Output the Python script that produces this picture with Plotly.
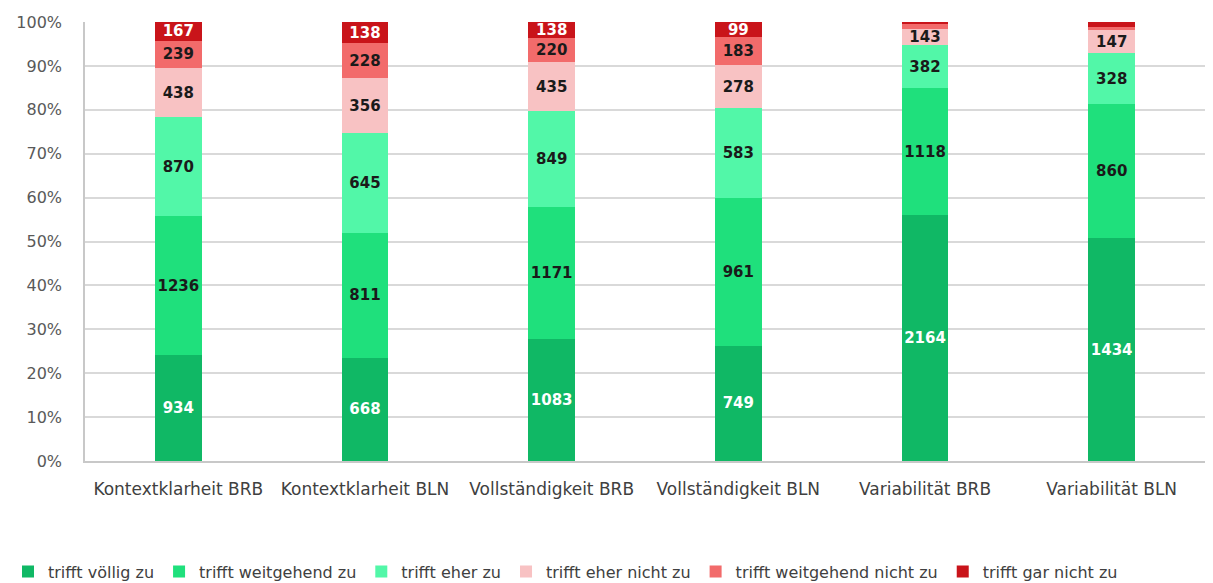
import plotly.graph_objects as go

categories = ["Kontextklarheit BRB", "Kontextklarheit BLN", "Vollständigkeit BRB",
              "Vollständigkeit BLN", "Variabilität BRB", "Variabilität BLN"]

series_names = ["trifft völlig zu", "trifft weitgehend zu", "trifft eher zu",
                "trifft eher nicht zu", "trifft weitgehend nicht zu", "trifft gar nicht zu"]

voellig_zu = [934, 668, 1083, 749, 2164, 1434]
weitgehend_zu = [1236, 811, 1171, 961, 1118, 860]
eher_zu = [870, 645, 849, 583, 382, 328]
eher_nicht_zu = [438, 356, 435, 278, 143, 147]
weitgehend_nicht_zu = [239, 228, 220, 183, 40, 22]
gar_nicht_zu = [167, 138, 138, 99, 18, 32]

series_values = [voellig_zu, weitgehend_zu, eher_zu, eher_nicht_zu,
                 weitgehend_nicht_zu, gar_nicht_zu]
colors = ["#10b865", "#1fe07c", "#52f7a8", "#f8c2c3", "#f26b6b", "#c9141a"]
text_colors = ["white", "#1a1a1a", "#1a1a1a", "#1a1a1a", "#1a1a1a", "white"]

totals = [sum(v[i] for v in series_values) for i in range(len(categories))]

fig = go.Figure()
for name, vals, col, tcol in zip(series_names, series_values, colors, text_colors):
    labels = [str(v) if v / t > 0.02 else "" for v, t in zip(vals, totals)]
    fig.add_trace(go.Bar(
        name=name, x=categories, y=vals,
        marker=dict(color=col, line=dict(width=0)),
        text=labels, textposition="inside", insidetextanchor="middle", textangle=0,
        textfont=dict(family="DejaVu Sans", size=15, color=tcol, weight="bold"),
        width=0.25, hoverinfo="skip",
    ))

# body has an 8px default margin in the page, so compensate for it
fig.update_layout(
    barmode="stack", barnorm="percent",
    width=1205, height=575,
    margin=dict(l=77, r=8, t=14, b=122),
    plot_bgcolor="white", paper_bgcolor="white",
    font=dict(family="DejaVu Sans", color="#595959", size=16),
    uniformtext=dict(minsize=15, mode="show"),
    legend=dict(orientation="h", xref="container", x=-0.007, xanchor="left",
                yref="container", y=0.02, yanchor="middle",
                font=dict(family="DejaVu Sans", size=16, color="#404040"),
                traceorder="normal", itemwidth=30, tracegroupgap=0),
)
fig.update_xaxes(showline=True, linecolor="#c8c8c8", linewidth=1.5, ticks="",
                 automargin=False,
                 tickfont=dict(family="DejaVu Sans", size=17, color="#404040"),
                 ticklabelstandoff=12)
fig.update_yaxes(range=[0, 100], dtick=10, ticksuffix="%", showgrid=True,
                 gridcolor="#d9d9d9", gridwidth=1.5, showline=True, linecolor="#c8c8c8",
                 linewidth=1.5, zeroline=False, ticks="", ticklabelstandoff=18,
                 automargin=False,
                 tickfont=dict(family="DejaVu Sans", size=16, color="#595959"))

fig.write_html("out.html")
